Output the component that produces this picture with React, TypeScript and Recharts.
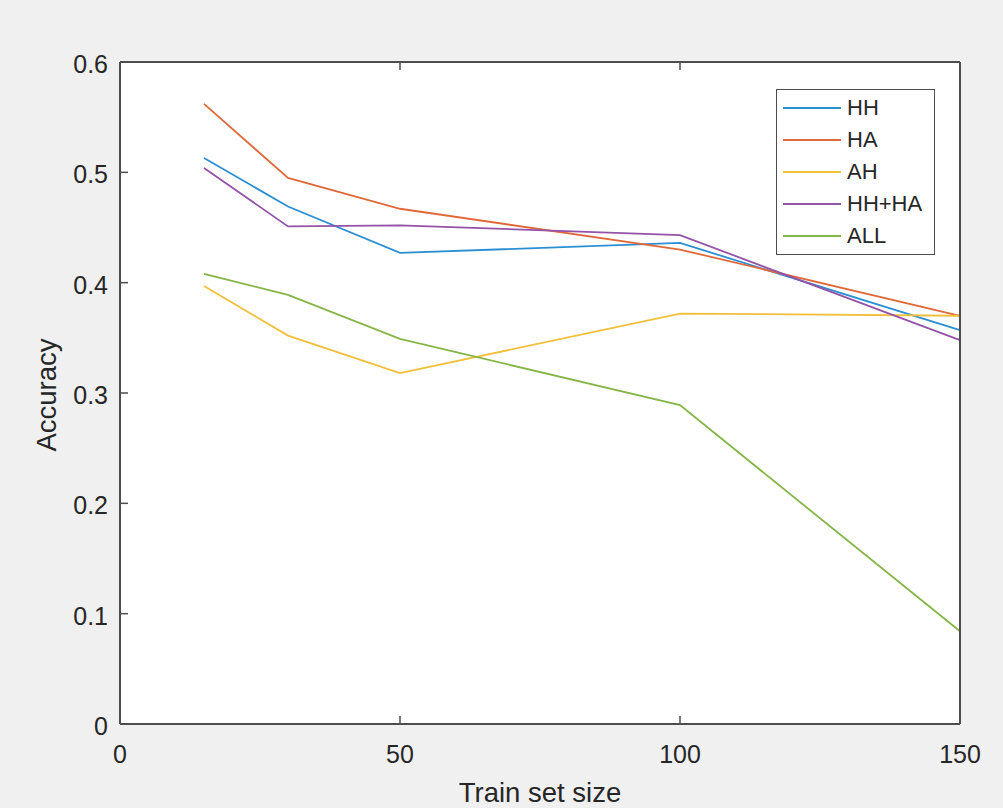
import { CartesianGrid, Legend, Line, LineChart, XAxis, YAxis } from "recharts";

// Accuracy vs training-set size, five feature sets (MATLAB-style figure).
const trainSizes = [15, 30, 50, 100, 150];
const hhAcc = [0.513, 0.469, 0.427, 0.436, 0.357];
const haAcc = [0.562, 0.495, 0.467, 0.43, 0.37];
const ahAcc = [0.397, 0.352, 0.318, 0.372, 0.37];
const hhHaAcc = [0.504, 0.451, 0.452, 0.443, 0.348];
const allAcc = [0.408, 0.389, 0.349, 0.289, 0.084];

const xTicks = [0, 50, 100, 150];
const yTicks = [0, 0.1, 0.2, 0.3, 0.4, 0.5, 0.6];

const SERIES = [
  { key: "hh", name: "HH", color: "#2b8fd3", values: hhAcc },
  { key: "ha", name: "HA", color: "#e0693a", values: haAcc },
  { key: "ah", name: "AH", color: "#f2bf3a", values: ahAcc },
  { key: "hhha", name: "HH+HA", color: "#9452a8", values: hhHaAcc },
  { key: "all", name: "ALL", color: "#85b547", values: allAcc },
];

const data = trainSizes.map((size, i) => {
  const row: Record<string, number> = { size };
  SERIES.forEach((s) => (row[s.key] = s.values[i]));
  return row;
});

const INK = "#262626";
const AXIS = "#4d4d4d";
const FONT = '"Liberation Sans", Arial, Helvetica, sans-serif';
// negative size = ticks point into the box, like MATLAB
const TICK_IN = -8;

const axisLine = { stroke: AXIS, strokeWidth: 2 };
const tickLine = { stroke: AXIS, strokeWidth: 1.5 };

// with tickSize -8 and tickMargin 8 the label anchor sits right on the axis line
function BottomTick({ x, y, payload }: any) {
  return (
    <text x={x} y={y + 39} textAnchor="middle" fontSize={25} fill={INK} fontFamily={FONT}>
      {payload.value}
    </text>
  );
}

function LeftTick({ x, y, payload }: any) {
  return (
    <text x={x - 12} y={y + 11} textAnchor="end" fontSize={25} fill={INK} fontFamily={FONT}>
      {payload.value}
    </text>
  );
}

function NoLabel() {
  return <g />;
}

function LegendBox({ payload }: any) {
  const items = SERIES.map((s) => (payload || []).find((p: any) => p.value === s.name)).filter(Boolean);
  return (
    <div
      style={{
        border: `1.5px solid ${AXIS}`,
        background: "#fff",
        width: 159,
        padding: "2px 0",
        boxSizing: "border-box",
        fontFamily: FONT,
      }}
    >
      {items.map((entry: any) => (
        <div key={entry.value} style={{ display: "flex", alignItems: "center", height: 32 }}>
          <svg width={58} height={4} style={{ marginLeft: 6, display: "block" }}>
            <line x1={0} x2={58} y1={2} y2={2} stroke={entry.color} strokeWidth={1.8} />
          </svg>
          <span style={{ marginLeft: 6, fontSize: 22, color: INK, lineHeight: "32px" }}>{entry.value}</span>
        </div>
      ))}
    </div>
  );
}

export default function App() {
  return (
    <div
      style={{
        position: "absolute",
        left: 0,
        top: 0,
        width: 1003,
        height: 808,
        background: "#f0f0f0",
        fontFamily: FONT,
      }}
    >
      <LineChart width={1003} height={808} data={data} margin={{ top: 61, right: 42, bottom: 0, left: 0 }}>
        <CartesianGrid fill="#ffffff" horizontal={false} vertical={false} />
        <XAxis
          dataKey="size"
          type="number"
          domain={[0, 150]}
          ticks={xTicks}
          interval={0}
          height={84}
          tickSize={TICK_IN}
          tickMargin={8}
          tickLine={tickLine}
          axisLine={axisLine}
          tick={<BottomTick />}
          label={{
            content: ({ viewBox }: any) => (
              <text
                x={viewBox.x + viewBox.width / 2}
                y={viewBox.y + 78}
                textAnchor="middle"
                fontSize={27.5}
                fill={INK}
                fontFamily={FONT}
              >
                Train set size
              </text>
            ),
          }}
        />
        {/* top and right axes only close the box and carry inward ticks */}
        <XAxis
          xAxisId="top"
          orientation="top"
          dataKey="size"
          type="number"
          domain={[0, 150]}
          ticks={xTicks}
          interval={0}
          height={1}
          tickSize={TICK_IN}
          tickMargin={8}
          tickLine={tickLine}
          axisLine={axisLine}
          tick={<NoLabel />}
        />
        <YAxis
          type="number"
          domain={[0, 0.6]}
          ticks={yTicks}
          interval={0}
          width={120}
          tickSize={TICK_IN}
          tickMargin={8}
          tickLine={tickLine}
          axisLine={axisLine}
          tick={<LeftTick />}
          label={{
            content: ({ viewBox }: any) => {
              const cx = viewBox.x + 56;
              const cy = viewBox.y + viewBox.height / 2 + 2;
              return (
                <text
                  x={cx}
                  y={cy}
                  transform={`rotate(-90 ${cx} ${cy})`}
                  textAnchor="middle"
                  fontSize={27.5}
                  fill={INK}
                  fontFamily={FONT}
                >
                  Accuracy
                </text>
              );
            },
          }}
        />
        <YAxis
          yAxisId="right"
          orientation="right"
          type="number"
          domain={[0, 0.6]}
          ticks={yTicks}
          interval={0}
          width={1}
          tickSize={TICK_IN}
          tickMargin={8}
          tickLine={tickLine}
          axisLine={axisLine}
          tick={<NoLabel />}
        />
        <Legend
          layout="vertical"
          align="center"
          verticalAlign="middle"
          content={<LegendBox />}
          wrapperStyle={{ left: 776, top: 89, width: 159, height: "auto" }}
        />
        {SERIES.map((s) => (
          <Line
            key={s.key}
            type="linear"
            dataKey={s.key}
            name={s.name}
            stroke={s.color}
            strokeWidth={1.8}
            dot={false}
            isAnimationActive={false}
          />
        ))}
      </LineChart>
    </div>
  );
}
